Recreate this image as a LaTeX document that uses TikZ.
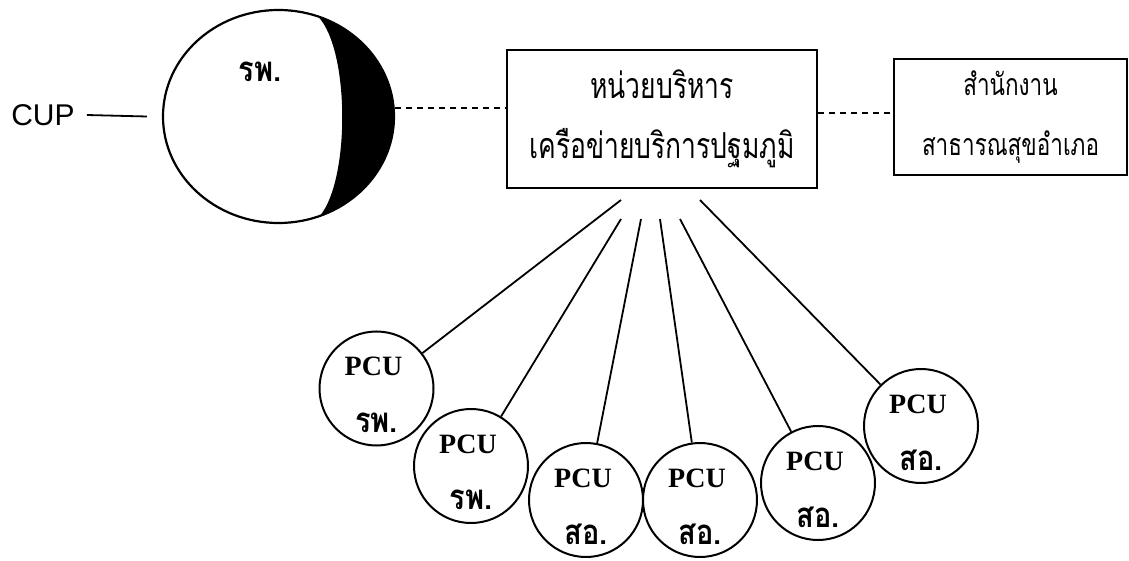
\documentclass[tikz,border=0pt]{standalone}
\usepackage{graphicx}
\usepackage{fontspec}
\setmainfont{Liberation Serif}
\newfontfamily\thaifont[Script=Thai]{Loma}
\newfontfamily\cupfont{Liberation Sans}
\newcommand{\tall}[1]{\scalebox{1}[1.35]{#1}}
\usetikzlibrary{shapes.geometric,calc}
\begin{document}
\begin{tikzpicture}[x=1pt,y=1pt,
  pcu/.style={circle,draw,line width=2pt,minimum size=114pt,inner sep=0pt},
  pcutxt/.style={font=\bfseries\fontsize{28}{30}\selectfont,inner sep=0pt},
  thb/.style={font=\thaifont\bfseries\fontsize{29}{32}\selectfont,inner sep=0pt},
  fan/.style={line width=1.8pt},
  dashline/.style={line width=2pt,dash pattern=on 6pt off 5pt},
  boxst/.style={draw,line width=2pt,inner sep=0pt,align=center}
]
\useasboundingbox (0,0) rectangle (1129,-561);

% CUP label and hospital circle
\node[font=\cupfont\fontsize{30}{32}\selectfont,inner sep=0pt] (cup) at (43,-115) {CUP};
\node[ellipse,draw,line width=2.2pt,minimum width=231pt,minimum height=213pt,inner sep=0pt] (bigc) at (278.5,-116.5) {};
\fill (318,-16.4) arc[start angle=70,end angle=-69,x radius=115.5,y radius=106.5]
  .. controls (350,-180) and (350,-50) .. (318,-16.4);
\node[thb] (rp) at (260,-72) {\scalebox{1}[1.2]{รพ.}};
\draw[line width=1.8pt] ([xshift=12pt]cup.east) -- ([xshift=-15pt]bigc.west);

% boxes
\node[boxst,minimum width=310pt,minimum height=138pt,font=\thaifont\fontsize{26.5}{60}\selectfont] (mbox) at (662,-119) {\tall{หน่วยบริหาร}\\\tall{เครือข่ายบริการปฐมภูมิ}};
\node[boxst,minimum width=233pt,minimum height=116pt,font=\thaifont\fontsize{22.5}{60}\selectfont] (rbox) at (1010.5,-117) {\tall{สำนักงาน}\\\tall{สาธารณสุขอำเภอ}};

\coordinate (d1) at (bigc.4);
\draw[dashline] (d1) -- (d1 -| mbox.west);
\coordinate (d2) at ([yshift=6pt]mbox.east);
\draw[dashline] (d2) -- (d2 -| rbox.west);

% PCU circles
\node[pcu] (p1) at (376.5,-388.5) {};
\node[pcu] (p2) at (471,-466) {};
\node[pcu] (p3) at (586,-500) {};
\node[pcu] (p4) at (700,-500) {};
\node[pcu] (p5) at (818,-483) {};
\node[pcu] (p6) at (921,-426) {};

\foreach \i/\t in {1/รพ.,2/รพ.,3/สอ.,4/สอ.,5/สอ.,6/สอ.}{
  \node[pcutxt] (pl\i) at ([xshift=-3pt,yshift=22pt]p\i.center) {PCU};
  \node[thb] (pt\i) at ([yshift=-34pt]p\i.center) {\scalebox{1}[1.2]{\t}};
}

% fan connectors
\coordinate (t1) at (621,-200);
\coordinate (t2) at (621,-219);
\coordinate (t3) at (641,-219);
\coordinate (t4) at (660,-219);
\coordinate (t5) at (680,-219);
\coordinate (t6) at (700,-200);
\foreach \i in {1,...,6}{
  \draw[fan] (t\i) -- (p\i);
}
\end{tikzpicture}
\end{document}
